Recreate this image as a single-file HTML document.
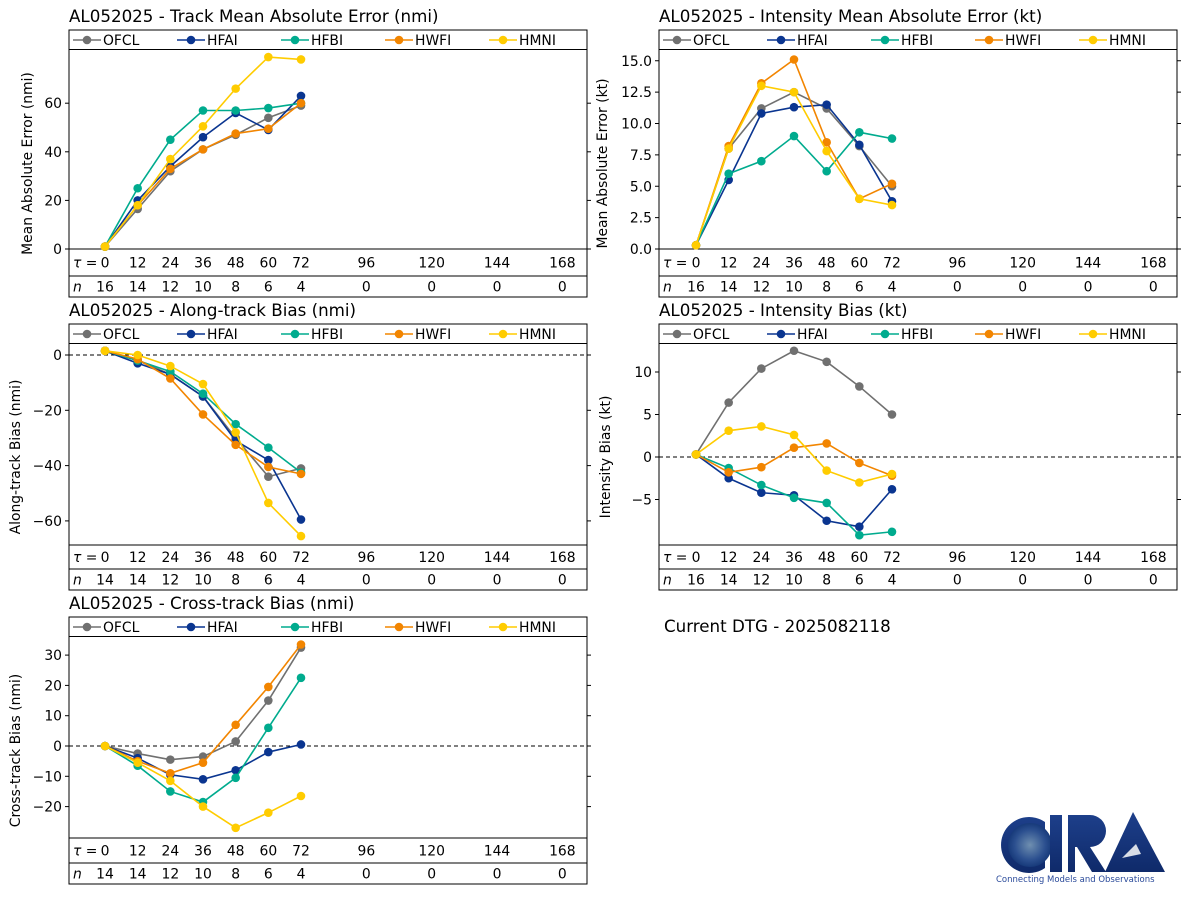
<!DOCTYPE html>
<html><head><meta charset="utf-8"><style>
body{margin:0;background:#fff;font-family:"Liberation Sans","DejaVu Sans",sans-serif}
svg text{font-family:"DejaVu Sans","Liberation Sans",sans-serif}
</style></head><body>
<svg id="c" width="1191" height="900" xmlns="http://www.w3.org/2000/svg">
<text x="664" y="632" font-size="16.7">Current DTG - 2025082118</text>
<g>
<defs><linearGradient id="lg" x1="0" y1="0" x2="0" y2="1"><stop offset="0" stop-color="#1d3f8a"/><stop offset="1" stop-color="#0f2a6a"/></linearGradient>
<radialGradient id="eg"><stop offset="0" stop-color="#6f8fb0"/><stop offset="0.7" stop-color="#2b4f8f"/><stop offset="1" stop-color="#173a7a"/></radialGradient></defs>
<path d="M1045 822 A28 28 0 1 0 1045 868 L1045 858 A20 20 0 1 1 1045 832 Z" fill="url(#lg)"/>
<circle cx="1030" cy="845" r="22" fill="url(#eg)"/>
<rect x="1050" y="815" width="12" height="57" fill="url(#lg)"/>
<path d="M1068 815 h22 a15 15 0 0 1 0 32 l16 25 h-14 l-15 -25 h-2 v25 h-7z" fill="url(#lg)"/>
<path d="M1105 872 L1133 812 L1165 872 Z" fill="url(#lg)"/>
<path d="M1122 858 l14 -14 l5 10 z" fill="#d8dde6"/>
<text x="996" y="882" font-size="8.5" fill="#2a4a9a">Connecting Models and Observations</text>
</g>
</svg>
<script>
const taus=[0,12,24,36,48,60,72];
const tickTaus=[0,12,24,36,48,60,72,96,120,144,168];
const models=["OFCL","HFAI","HFBI","HWFI","HMNI"];
const colors=["#707070","#0a3590","#00ab8e","#f28500","#ffcc00"];
const nTrack=[16,14,12,10,8,6,4,0,0,0,0];
const nInt=[16,14,12,10,8,6,4,0,0,0,0];
const nBias=[14,14,12,10,8,6,4,0,0,0,0];
const trackOFCL=[1,16.5,32,41,47,54,59];
const trackHFAI=[1,20,34,46,56,49,63];
const trackHFBI=[1,25,45,57,57,58,60];
const trackHWFI=[1,18,33,41,47.5,49.5,60];
const trackHMNI=[1,18,37,50.5,66,79,78];
const intOFCL=[0.3,8,11.2,12.5,11.2,8.2,5];
const intHFAI=[0.3,5.5,10.8,11.3,11.5,8.3,3.8];
const intHFBI=[0.3,6,7,9,6.2,9.3,8.8];
const intHWFI=[0.3,8.2,13.2,15.1,8.5,4,5.2];
const intHMNI=[0.3,8,13,12.5,7.8,4,3.5];
const alOFCL=[1.5,-2,-7,-15,-30,-44,-41];
const alHFAI=[1.5,-3,-7,-15,-31,-38,-59.5];
const alHFBI=[1.5,-2,-6,-14,-25,-33.5,-42.5];
const alHWFI=[1.5,-1.5,-8.5,-21.5,-32.5,-40.5,-43];
const alHMNI=[1.5,0,-4,-10.5,-28,-53.5,-65.5];
const ibOFCL=[0.3,6.4,10.4,12.5,11.2,8.3,5];
const ibHFAI=[0.3,-2.5,-4.2,-4.5,-7.5,-8.2,-3.8];
const ibHFBI=[0.3,-1.3,-3.3,-4.8,-5.4,-9.2,-8.8];
const ibHWFI=[0.3,-1.8,-1.2,1.1,1.6,-0.7,-2.2];
const ibHMNI=[0.3,3.1,3.6,2.6,-1.6,-3,-2];
const ctOFCL=[0,-2.5,-4.5,-3.5,1.5,15,32.5];
const ctHFAI=[0,-4,-9.5,-11,-8,-2,0.5];
const ctHFBI=[0,-6.5,-15,-18.5,-10.5,6,22.5];
const ctHWFI=[0,-5,-9,-5.5,7,19.5,33.5];
const ctHMNI=[0,-5.5,-11.5,-20,-27,-22,-16.5];
const trackTicks=[0,20,40,60];
const intTicks=["0.0","2.5","5.0","7.5","10.0","12.5","15.0"];
const alTicks=[0,-20,-40,-60];
const ibTicks=[-5,0,5,10];
const ctTicks=[-20,-10,0,10,20,30];

const svg=document.getElementById('c');
const NS="http://www.w3.org/2000/svg";
const FS=13.9;
function el(t,a,p){const e=document.createElementNS(NS,t);for(const k in a)e.setAttribute(k,a[k]);(p||svg).appendChild(e);return e;}
function txt(x,y,s,size,anchor,p){const e=el('text',{x:x,y:y,'font-size':size,'text-anchor':anchor||'start'},p);e.textContent=s;return e;}

function panel(o){
  const g=el('g',{});
  
  
  const L=o.x0,R=o.x0+518;
  const xs=t=>o.tau0+t*(196/72);
  const ys=v=>o.zeroY-(v-o.zeroV)*o.ppu;
  const tt=txt(L,o.top-8,o.title,16.7,'start',g);
  
  
  el('rect',{x:L,y:o.top,width:518,height:o.bot-o.top,fill:'none',stroke:'#000','stroke-width':1},g);
  el('line',{x1:L,x2:R,y1:o.top+19.5,y2:o.top+19.5,stroke:'#000'},g);
  el('line',{x1:L,x2:R,y1:o.axisY,y2:o.axisY,stroke:'#000'},g);
  el('line',{x1:L,x2:R,y1:o.nLineY,y2:o.nLineY,stroke:'#000'},g);
  if(o.dashed) el('line',{x1:L,x2:R,y1:ys(0),y2:ys(0),stroke:'#000','stroke-dasharray':'4,3'},g);
  o.ticks.forEach(t=>{const v=parseFloat(t);const y=ys(v);
    el('line',{x1:L-4,x2:L,y1:y,y2:y,stroke:'#000'},g);
    el('line',{x1:R,x2:R+4,y1:y,y2:y,stroke:'#000'},g);
    const l=txt(L-7,y+5,String(t).replace('-','−'),FS,'end',g);
    
    });
  const yl=el('text',{x:0,y:0,'font-size':FS,'text-anchor':'middle',transform:`translate(${o.ylabX},${(o.top+o.bot)/2}) rotate(-90)`},g);
  yl.textContent=o.ylab;
  
  
  const tr=(o.axisY+o.nLineY)/2+5, nr=(o.nLineY+o.bot)/2+5;
  txt(L+4,tr,'τ =',FS,'start',g).setAttribute('font-style','italic');
  const ni=txt(L+4,nr,'n',FS,'start',g);ni.setAttribute('font-style','italic');
  tickTaus.forEach((t,i)=>{
    const a=txt(xs(t),tr,String(t),FS,'middle',g);
    
    
    const b=txt(xs(t),nr,String(o.n[i]),FS,'middle',g);
    
    });
  o.series.forEach((s,i)=>{
    const sg=el('g',{},g);
    
    
    el('polyline',{points:s.map((v,j)=>xs(taus[j])+','+ys(v)).join(' '),fill:'none',stroke:colors[i],'stroke-width':1.6},sg);
    s.forEach((v,j)=>{const c=el('circle',{cx:xs(taus[j]),cy:ys(v),r:4.3,fill:colors[i]},sg);
      
      });
  });
  models.forEach((m,i)=>{
    const lx=L+4+i*104, ly=o.top+10;
    const lg=el('g',{},g);
    
    
    el('line',{x1:lx,x2:lx+28,y1:ly,y2:ly,stroke:colors[i],'stroke-width':1.6},lg);
    el('circle',{cx:lx+14,cy:ly,r:4.3,fill:colors[i]},lg);
    txt(lx+30,ly+5,m,FS,'start',lg);
  });
}
panel({name:'track-mae-panel',title:'AL052025 - Track Mean Absolute Error (nmi)',x0:69,tau0:105,top:30,axisY:249,nLineY:276,bot:297,zeroY:249,zeroV:0,ppu:2.43,ticks:trackTicks,ylab:'Mean Absolute Error (nmi)',ylabX:32,n:nTrack,series:[trackOFCL,trackHFAI,trackHFBI,trackHWFI,trackHMNI]});
panel({name:'intensity-mae-panel',title:'AL052025 - Intensity Mean Absolute Error (kt)',x0:659,tau0:696,top:30,axisY:249,nLineY:276,bot:297,zeroY:249,zeroV:0,ppu:12.55,ticks:intTicks,ylab:'Mean Absolute Error (kt)',ylabX:607,n:nInt,series:[intOFCL,intHFAI,intHFBI,intHWFI,intHMNI]});
panel({name:'along-track-bias-panel',title:'AL052025 - Along-track Bias (nmi)',x0:69,tau0:105,top:324,axisY:545,nLineY:569,bot:590,zeroY:355,zeroV:0,ppu:2.765,ticks:alTicks,ylab:'Along-track Bias (nmi)',ylabX:20,n:nBias,dashed:true,series:[alOFCL,alHFAI,alHFBI,alHWFI,alHMNI]});
panel({name:'intensity-bias-panel',title:'AL052025 - Intensity Bias (kt)',x0:659,tau0:696,top:324,axisY:545,nLineY:569,bot:590,zeroY:457,zeroV:0,ppu:8.5,ticks:ibTicks,ylab:'Intensity Bias (kt)',ylabX:610,n:nInt,dashed:true,series:[ibOFCL,ibHFAI,ibHFBI,ibHWFI,ibHMNI]});
panel({name:'cross-track-bias-panel',title:'AL052025 - Cross-track Bias (nmi)',x0:69,tau0:105,top:617,axisY:838,nLineY:863,bot:884,zeroY:746,zeroV:0,ppu:3.03,ticks:ctTicks,ylab:'Cross-track Bias (nmi)',ylabX:20,n:nBias,dashed:true,series:[ctOFCL,ctHFAI,ctHFBI,ctHWFI,ctHMNI]});
</script>
</body></html>
